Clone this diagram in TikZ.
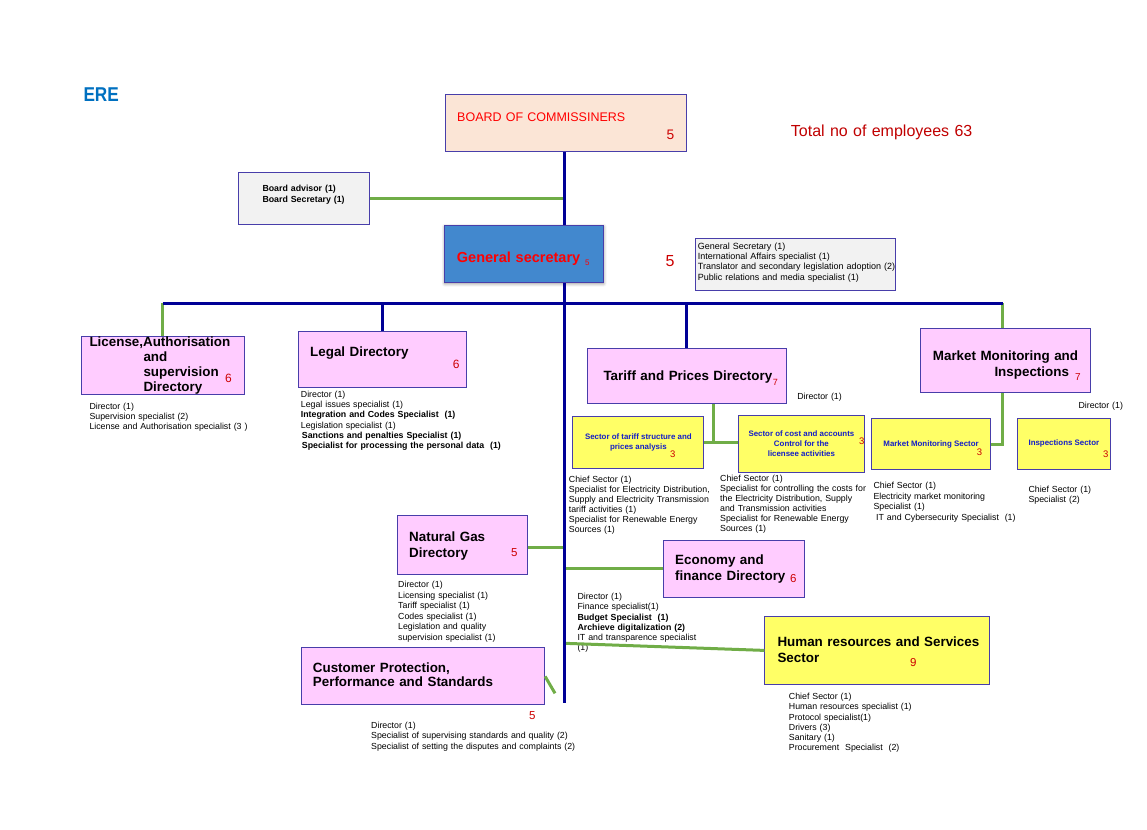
\documentclass[tikz,border=0pt]{standalone}
\usepackage{graphicx}
\usepackage{fontspec}
\setmainfont{Liberation Sans}
\usetikzlibrary{positioning,shadows.blur}

\definecolor{edgeblue}{RGB}{72,62,170}
\definecolor{trunkblue}{RGB}{0,0,150}
\definecolor{linkgreen}{RGB}{112,173,71}
\definecolor{dirpink}{RGB}{255,204,255}
\definecolor{secyellow}{RGB}{255,255,102}
\definecolor{secblue}{RGB}{20,30,200}
\definecolor{infogray}{RGB}{242,242,242}
\definecolor{boardpeach}{RGB}{251,229,214}
\definecolor{gsblue}{RGB}{66,136,206}
\definecolor{numred}{RGB}{204,0,0}
\definecolor{gsred}{RGB}{255,0,0}
\definecolor{ereblue}{RGB}{0,112,192}
\definecolor{totalred}{RGB}{192,0,0}

\begin{document}
\begin{tikzpicture}[x=1pt, y=1pt,
    box/.style={draw=edgeblue, line width=1.1pt, anchor=north west, inner sep=0pt},
    dirbox/.style={box, fill=dirpink},
    secbox/.style={box, fill=secyellow, text=secblue, align=center,
        font=\fontsize{7.9}{10}\selectfont\bfseries},
    infobox/.style={box, fill=infogray},
    dirname/.style={anchor=base west, inner sep=0pt, align=left, text width=200pt,
        font=\fontsize{13.4}{15.5}\selectfont\bfseries},
    staff/.style={anchor=base west, inner sep=0pt, align=left, text width=240pt,
        font=\fontsize{8.8}{10.3}\selectfont},
    headcount/.style={anchor=base west, inner sep=0pt, text=numred,
        font=\fontsize{#1}{#1}\selectfont},
    headcount/.default=11.5,
    mainline/.style={draw=trunkblue, line width=3pt},
    subline/.style={draw=linkgreen, line width=3pt},
]
    \useasboundingbox (0,0) rectangle (1147,-829);

    % logo
    \node[anchor=base west, inner sep=0pt, text=ereblue,
        font=\fontsize{20}{20}\selectfont\bfseries] (ere) at (83.3,-101.7) {\scalebox{0.86}[1]{ERE}};

    % board
    \node[box, fill=boardpeach, minimum width=241pt, minimum height=57pt] (board) at (445,-94) {};
    \node[below right=27.3pt and 12pt of board.north west, dirname, text=gsred,
        font=\fontsize{12.5}{14}\selectfont] (boardT) {BOARD OF COMMISSINERS};
    \node[below right=45.6pt and 221.4pt of board.north west, headcount=13.8] (boardN) {5};
    \node[below right=42.8pt and 103.6pt of board.north east, dirname, text width=260pt,
        text=totalred, font=\fontsize{16}{18}\selectfont] (total) {Total no of employees 63};

    \node[infobox, minimum width=131pt, minimum height=51.7pt] (advisor) at (238.3,-172.3) {};
    \node[below right=19.4pt and 24pt of advisor.north west, staff,
        font=\fontsize{8.8}{10.6}\selectfont\bfseries] (advisorT)
        {Board advisor (1)\\Board Secretary (1)};

    % general secretary
    \node[box, fill=gsblue, minimum width=159.3pt, minimum height=57.3pt,
        blur shadow={shadow blur steps=6, shadow xshift=0pt, shadow yshift=-1pt,
        shadow blur radius=3pt}] (gs) at (444,-225) {};
    \node[below right=37.7pt and 12.7pt of gs.north west, dirname, text=gsred,
        font=\fontsize{14.5}{16}\selectfont\bfseries] (gsT)
        {General secretary \raisebox{-2.3pt}{\mdseries\fontsize{8}{8}\selectfont 5}};
    \node[below right=41.7pt and 61pt of gs.north east, headcount=16] (gsN) {5};

    \node[infobox, minimum width=200pt, minimum height=51.7pt] (gsinfo) at (695,-238.3) {};
    \node[below right=10.7pt and 2.7pt of gsinfo.north west, staff,
        font=\fontsize{9}{10.4}\selectfont] (gsinfoT)
        {General Secretary (1)\\International Affairs specialist (1)\\
         Translator and secondary legislation adoption (2)\\
         Public relations and media specialist (1)};

    % directories on the bar
    \node[dirbox, minimum width=163.3pt, minimum height=58.3pt] (license) at (80.7,-335.7) {};
    \node[below right=10.3pt and 8.6pt of license.north west, dirname, font=\fontsize{13.4}{15.2}\selectfont\bfseries] (licenseT)
        {License,Authorisation\\\hspace*{54pt}and\\\hspace*{54pt}supervision\\\hspace*{54pt}Directory};
    \node[below right=46.3pt and 144.3pt of license.north west, headcount=12] (licenseN) {6};
    \node[below right=14.3pt and 8.6pt of license.south west, staff, font=\fontsize{8.8}{10}\selectfont] (licenseL)
        {Director (1)\\Supervision specialist (2)\\License and Authorisation specialist (3 )};

    \node[dirbox, minimum width=168.3pt, minimum height=55.7pt] (legal) at (297.7,-331) {};
    \node[below right=25.7pt and 12.3pt of legal.north west, dirname] (legalT) {Legal Directory};
    \node[below right=37.7pt and 155pt of legal.north west, headcount=12] (legalN) {6};
    \node[below right=9.3pt and 3pt of legal.south west, staff] (legalL)
        {Director (1)\\Legal issues specialist (1)\\
         \textbf{Integration and Codes Specialist\ \ (1)}\\Legislation specialist (1)\\
         \hspace*{1pt}\textbf{Sanctions and penalties Specialist (1)}\\
         \hspace*{1pt}\textbf{Specialist for processing the personal data\ \ (1)}};

    \node[dirbox, minimum width=199pt, minimum height=55pt] (tariff) at (586.7,-347.7) {};
    \node[below right=32.3pt and 16.6pt of tariff.north west, dirname] (tariffT) {Tariff and Prices Directory};
    \node[below right=38pt and 186pt of tariff.north west, headcount=9] (tariffN) {7};
    \node[below right=51.3pt and 10.3pt of tariff.north east, staff] (tariffD) {Director (1)};

    \node[dirbox, minimum width=170pt, minimum height=63.4pt] (market) at (920,-328.3) {};
    \node[below right=32.4pt and 12.7pt of market.north west, dirname, font=\fontsize{13.4}{15.3}\selectfont\bfseries] (marketT)
        {Market Monitoring and\\\hspace*{61.6pt}Inspections};
    \node[below right=51.7pt and 155pt of market.north west, headcount=10] (marketN) {7};
    \node[below right=15.6pt and 158.3pt of market.south west, staff] (marketD) {Director (1)};

    % sectors
    \node[secbox, minimum width=131pt, minimum height=51.7pt] (tsector) at (572.3,-416)
        {Sector of tariff structure and\\prices analysis};
    \node[below right=41.3pt and 97.7pt of tsector.north west, headcount=9.5] (tsectorN) {3};
    \node[below right=14pt and -3.6pt of tsector.south west, staff, font=\fontsize{8.8}{10}\selectfont] (tsectorL)
        {Chief Sector (1)\\Specialist for Electricity Distribution,\\Supply and Electricity Transmission\\
         tariff activities (1)\\Specialist for Renewable Energy\\Sources (1)};

    \node[secbox, minimum width=126.3pt, minimum height=57pt] (csector) at (737.7,-414.7)
        {Sector of cost and accounts\\Control for the\\licensee activities};
    \node[below right=29.6pt and 121.3pt of csector.north west, headcount=9.5] (csectorN) {3};
    \node[below right=8.3pt and -17.7pt of csector.south west, staff, font=\fontsize{8.8}{10.1}\selectfont] (csectorL)
        {Chief Sector (1)\\Specialist for controlling the costs for\\the Electricity Distribution, Supply\\
         and Transmission activities\\Specialist for Renewable Energy\\Sources (1)};

    \node[secbox, minimum width=119pt, minimum height=51.6pt] (msector) at (871,-417.7)
        {Market Monitoring Sector};
    \node[below right=38pt and 105.7pt of msector.north west, headcount=9.5] (msectorN) {3};
    \node[below right=18.4pt and 2.3pt of msector.south west, staff, font=\fontsize{8.8}{10.4}\selectfont] (msectorL)
        {Chief Sector (1)\\Electricity market monitoring\\Specialist (1)\\
         \hspace*{2.7pt}IT and Cybersecurity Specialist\ \ (1)};

    \node[secbox, minimum width=93.3pt, minimum height=51.3pt] (isector) at (1016.7,-417.7)
        {Inspections Sector};
    \node[below right=39.6pt and 86.3pt of isector.north west, headcount=9.5] (isectorN) {3};
    \node[below right=22pt and 11.6pt of isector.south west, staff, font=\fontsize{8.8}{10}\selectfont] (isectorL)
        {Chief Sector (1)\\Specialist (2)};

    % directories on the trunk
    \node[dirbox, minimum width=129.4pt, minimum height=59pt] (gas) at (397.3,-515.3) {};
    \node[below right=25.7pt and 11.7pt of gas.north west, dirname, font=\fontsize{13.4}{16.7}\selectfont\bfseries] (gasT)
        {Natural Gas\\Directory};
    \node[below right=40.7pt and 113.7pt of gas.north west, headcount] (gasN) {5};
    \node[below right=12.4pt and 0.7pt of gas.south west, staff, font=\fontsize{8.8}{10.45}\selectfont] (gasL)
        {Director (1)\\Licensing specialist (1)\\Tariff specialist (1)\\Codes specialist (1)\\
         Legislation and quality\\supervision specialist (1)};

    \node[dirbox, minimum width=141.6pt, minimum height=56.7pt] (economy) at (662.7,-540) {};
    \node[below right=24.3pt and 12.3pt of economy.north west, dirname, font=\fontsize{13.4}{15.7}\selectfont\bfseries] (economyT)
        {Economy and\\finance Directory};
    \node[below right=42.3pt and 127.3pt of economy.north west, headcount] (economyN) {6};
    \node[below right=1.6pt and -85.4pt of economy.south west, staff] (economyL)
        {Director (1)\\Finance specialist(1)\\\textbf{Budget Specialist\ \ (1)}\\
         \textbf{Archieve digitalization (2)}\\IT and transparence specialist\\(1)};

    \node[box, fill=secyellow, minimum width=224.7pt, minimum height=68.3pt] (hr) at (764.3,-615.7) {};
    \node[below right=31pt and 13pt of hr.north west, dirname, text width=230pt, font=\fontsize{13.4}{15.6}\selectfont\bfseries] (hrT)
        {Human resources and Services\\Sector};
    \node[below right=51pt and 145.7pt of hr.north west, headcount] (hrN) {9};
    \node[below right=14.3pt and 24.4pt of hr.south west, staff] (hrL)
        {Chief Sector (1)\\Human resources specialist (1)\\Protocol specialist(1)\\Drivers (3)\\
         Sanitary (1)\\Procurement\ \ Specialist\ \ (2)};

    \node[dirbox, minimum width=243.3pt, minimum height=57pt] (customer) at (300.7,-647.3) {};
    \node[below right=25.4pt and 12pt of customer.north west, dirname, text width=240pt, font=\fontsize{13.4}{14}\selectfont\bfseries] (customerT)
        {Customer Protection,\\Performance and Standards};
    \node[below right=14pt and 228.3pt of customer.south west, headcount] (customerN) {5};
    \node[below right=23pt and 70.3pt of customer.south west, staff, font=\fontsize{8.8}{10.5}\selectfont] (customerL)
        {Director (1)\\Specialist of supervising standards and quality (2)\\
         Specialist of setting the disputes and complaints (2)};

    % green links
    \coordinate (trunkend) at (564.5,-702.7);
    \coordinate (barleft) at (162.5,-303);
    \coordinate (barright) at (1002.7,-303);
    \coordinate (tariffjoint) at (713.3,-442.7);
    \coordinate (hrjoint) at (564.5,-643.3);
    \coordinate (customerend) at (555,-693.3);

    \draw[subline] (advisor.east) -- (advisor.east -| trunkend);
    \draw[subline] (barleft) -- (barleft |- license.north);
    \draw[subline] (barright) -- (barright |- market.north);
    \draw[subline] (tariff.south -| tariffjoint) -- (tariffjoint |- tsector.east);
    \draw[subline] (tsector.east) -- (tsector.east -| csector.west);
    \draw[subline] (barright |- market.south) -- (barright |- msector.east) -- (msector.east);
    \draw[subline] ([yshift=-2.5pt]gas.east) -- ([yshift=-2.5pt]gas.east -| trunkend);
    \draw[subline] (economy.west -| trunkend) -- (economy.west);
    \draw[subline] (hrjoint) -- (hr.west);
    \draw[subline] (customer.east) -- (customerend);

    % navy trunk and bar
    \draw[mainline] (board.south -| trunkend) -- (gs.north -| trunkend);
    \draw[mainline] (gs.south -| trunkend) -- (trunkend);
    \draw[mainline] (barleft) -- (barright);
    \draw[mainline] (legal.north |- barleft) -- (legal.north);
    \draw[mainline] (tariff.north |- barleft) -- (tariff.north);
\end{tikzpicture}
\end{document}
